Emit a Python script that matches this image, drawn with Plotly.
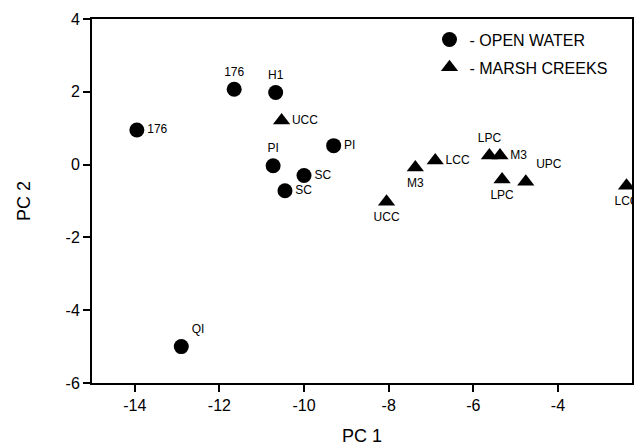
import plotly.graph_objects as go

# Open water sites
ow_x = [-13.95, -11.65, -10.67, -10.73, -9.3, -10.0, -10.45, -12.9]
ow_y = [0.95, 2.07, 1.98, -0.03, 0.52, -0.3, -0.72, -5.0]
ow_lab = ["176", "176", "H1", "PI", "PI", "SC", "SC", "QI"]
ow_pos = ["middle right", "top center", "top center", "top center",
          "middle right", "middle right", "middle right", "top right"]

# Marsh creek sites
mc_x = [-10.53, -8.05, -7.37, -6.9, -5.62, -5.37, -5.32, -4.76, -2.38]
mc_y = [1.21, -1.02, -0.08, 0.11, 0.25, 0.25, -0.41, -0.47, -0.58]
mc_lab = ["UCC", "UCC", "M3", "LCC", "LPC", "M3", "LPC", "UPC", "LCC"]
mc_pos = ["middle right", "bottom center", "bottom center", "middle right",
          "top center", "middle right", "bottom center", "top right", "bottom center"]

x_ticks = [-14, -12, -10, -8, -6, -4]
x_ticklabels = ["-14", "-12", "-10", "-8", "-6", "-4"]
y_ticks = [-6, -4, -2, 0, 2, 4]
y_ticklabels = ["-6", "-4", "-2", "0", "2", "4"]

font_family = "Liberation Sans, Arial, Helvetica, sans-serif"

fig = go.Figure()
fig.add_trace(go.Scatter(
    x=ow_x, y=ow_y, mode="markers+text", text=ow_lab, textposition=ow_pos,
    textfont=dict(size=12, color="black", family=font_family),
    marker=dict(symbol="circle", size=15, color="black"),
    name="- OPEN WATER", legendgroup="a", cliponaxis=False,
))
fig.add_trace(go.Scatter(
    x=mc_x, y=mc_y, mode="markers+text", text=mc_lab, textposition=mc_pos,
    textfont=dict(size=12, color="black", family=font_family),
    marker=dict(symbol="triangle-up", size=15, color="black"),
    name="- MARSH CREEKS", legendgroup="b", cliponaxis=True,
))

axis_common = dict(
    showline=True, linecolor="black", linewidth=2, mirror=True,
    ticks="outside", ticklen=7, tickwidth=1.5, tickcolor="black",
    showgrid=False, zeroline=False,
    tickfont=dict(size=16, color="black", family=font_family),
)

fig.update_layout(
    width=635, height=448,
    margin=dict(l=92, r=1, t=19, b=65),
    paper_bgcolor="white", plot_bgcolor="white",
    font=dict(family=font_family, color="black"),
    xaxis=dict(range=[-15.01, -2.25], tickvals=x_ticks, ticktext=x_ticklabels,
               title=dict(text="PC 1", font=dict(size=18), standoff=16), **axis_common),
    yaxis=dict(range=[-6, 4], tickvals=y_ticks, ticktext=y_ticklabels,
               title=dict(text="PC 2", font=dict(size=18), standoff=30), **axis_common),
    showlegend=True,
    legend=dict(x=0.625, y=0.99, xanchor="left", yanchor="top",
                font=dict(size=16, color="black"), bgcolor="rgba(0,0,0,0)",
                tracegroupgap=4, itemsizing="trace"),
)

fig.write_html("out.html")
